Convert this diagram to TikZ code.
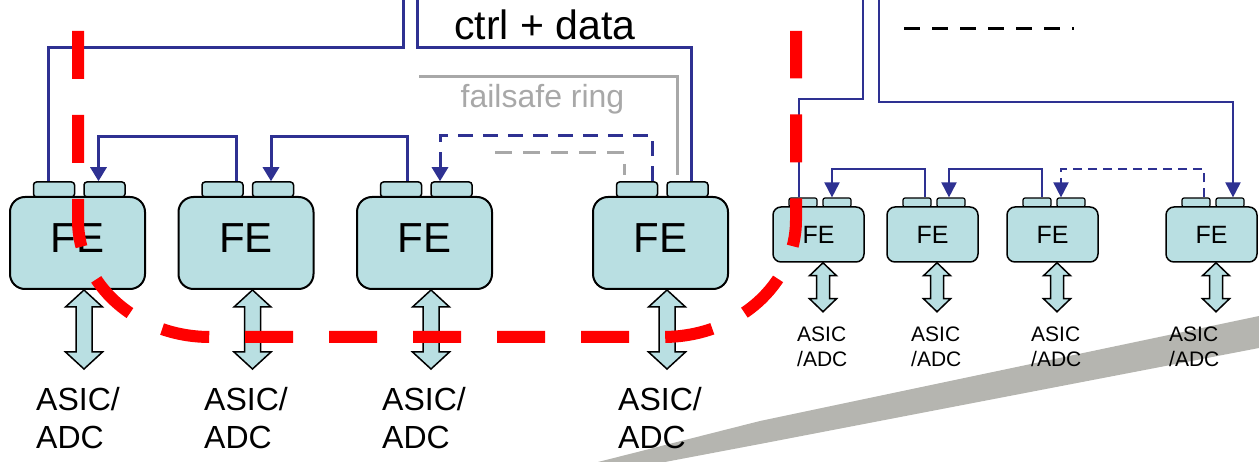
\documentclass[tikz,border=0pt]{standalone}
\usepackage{fontspec}
\setmainfont{Liberation Sans}
\usetikzlibrary{arrows.meta}
\definecolor{boxfill}{RGB}{185,223,226}
\definecolor{navy}{RGB}{46,49,146}
\definecolor{ringgray}{RGB}{168,168,168}
\definecolor{bandgray}{RGB}{181,181,176}
% #1 top coordinate, #2 length, #3 half shaft, #4 half head, #5 head length
\newcommand{\dblarr}[5]{%
  \draw[arrowbox] (#1) -- ++(#4,#5) -- ++(#3-#4,0) -- ++(0,#2-2*#5) -- ++(#4-#3,0)
    -- ++(-#4,#5) -- ++(-#4,-#5) -- ++(#4-#3,0) -- ++(0,2*#5-#2) -- ++(#3-#4,0) -- cycle;}
\tikzset{
  febig/.style={draw, line width=2pt, fill=boxfill, rounded corners=15pt,
    minimum width=135pt, minimum height=92pt, inner sep=0pt},
  tabbig/.style={draw, line width=1.5pt, fill=boxfill, rounded corners=3pt,
    minimum width=41pt, minimum height=15pt, inner sep=0pt},
  fesmall/.style={draw, line width=1.5pt, fill=boxfill, rounded corners=8pt,
    minimum width=91pt, minimum height=55pt, inner sep=0pt},
  tabsmall/.style={draw, line width=1.2pt, fill=boxfill, rounded corners=2pt,
    minimum width=28pt, minimum height=9pt, inner sep=0pt},
  fetxtbig/.style={inner sep=0pt, font=\fontsize{42}{42}\selectfont},
  fetxtsmall/.style={inner sep=0pt, font=\fontsize{25}{25}\selectfont},
  asicbig/.style={anchor=north west, align=left, inner sep=0pt, font=\fontsize{32}{38}\selectfont},
  asicsmall/.style={anchor=north west, align=left, inner sep=0pt, font=\fontsize{21}{25}\selectfont},
  arrowbox/.style={draw, fill=boxfill, line width=1.5pt, line join=miter},
  navyline/.style={draw=navy, line width=3pt},
  navythin/.style={draw=navy, line width=2pt},
  grayline/.style={draw=ringgray, line width=3pt},
  bigtip/.style={-{Triangle[width=16pt,length=14pt]}},
  smalltip/.style={-{Triangle[width=15pt,length=15pt]}},
  redline/.style={draw=red, line width=12pt, dash pattern=on 48pt off 36pt}
}
\begin{document}
\begin{tikzpicture}[x=1pt,y=-1pt]
\useasboundingbox (0,0) rectangle (1259,462);
% grey band
\fill[bandgray] (598,462) -- (760,421) -- (1259,316) -- (1259,348) -- (760,444) -- (665,462) -- cycle;

% ---------- big FE boxes ----------
\foreach \n/\c in {1/77.5,2/246,3/424.5,4/660.5}{
  \node[tabbig] (ta\n) at (\c-23.5,189.5) {};
  \node[tabbig] (tb\n) at (\c+27,189.5) {};
  \node[febig] (fe\n) at (\c,243) {};
  \node[fetxtbig] (fel\n) at (\c,238) {FE};
  \path ([xshift=6.5pt]fe\n.south) coordinate (da\n);
  \dblarr{da\n}{79}{8}{18.5}{17}
}
% ---------- small FE boxes ----------
\foreach \n/\c in {1/818.5,2/932.5,3/1052.5,4/1211.5}{
  \node[tabsmall] (sta\n) at (\c-15.5,202.5) {};
  \node[tabsmall] (stb\n) at (\c+18.5,202.5) {};
  \node[fesmall] (sfe\n) at (\c,234.5) {};
  \node[fetxtsmall] (sfel\n) at (\c,235) {FE};
  \path ([xshift=4.5pt]sfe\n.south) coordinate (sda\n);
  \dblarr{sda\n}{49}{6.5}{13.5}{13}
}

% ---------- big section connectors ----------
\coordinate (topA) at (403,-3);
\coordinate (topB) at (417,-3);
\draw[navyline] ([xshift=-6pt]ta1.north) -- ++(0,-134) -| (topA);
\draw[navyline] (topB) -- ++(0,51) -| ([xshift=3.5pt]tb4.north);
\coordinate (ringA) at (419,77);
\draw[grayline] (ringA) -| ([xshift=-10.5pt,yshift=6pt]tb4.north);
\coordinate (ringB) at (495,153);
\draw[grayline, dash pattern=on 17pt off 11pt] (ringB) -| ([xshift=-13pt,yshift=6pt]ta4.north);
\draw[navyline,bigtip] ([xshift=13.5pt]ta2.north) -- ++(0,-45) -| ([xshift=-6pt]tb1.north);
\draw[navyline,bigtip] ([xshift=6pt]ta3.north) -- ++(0,-45) -| ([xshift=-2pt]tb2.north);
\draw[navyline,bigtip,dash pattern=on 15pt off 10pt] ([xshift=15pt]ta4.north) -- ++(0,-46) -| ([xshift=-11.5pt]tb3.north);

% ---------- small section connectors ----------
\coordinate (topC) at (863,-3);
\coordinate (topD) at (879,-3);
\draw[navythin] (topC) -- ++(0,102) -| ([xshift=-4pt]sta1.north);
\draw[navythin,smalltip] (topD) -- ++(0,105) -| ([xshift=3pt]stb4.north);
\draw[navythin,smalltip] ([xshift=8pt]sta2.north) -- ++(0,-28) -| ([xshift=-5pt]stb1.north);
\draw[navythin,smalltip] ([xshift=5pt]sta3.north) -- ++(0,-28) -| ([xshift=-2pt]stb2.north);
\draw[navythin,smalltip,dash pattern=on 9pt off 6pt] ([xshift=8pt]sta4.north) -- ++(0,-28) -| ([xshift=-10pt]stb3.north);

% black dashed line
\coordinate (dA) at (904,29);
\coordinate (dB) at (1074,29);
\draw[line width=3pt, dash pattern=on 16.3pt off 11.7pt] (dA) -- (dB);

% ---------- texts ----------
\node[anchor=base, inner sep=0pt, font=\fontsize{41}{41}\selectfont] (ctrl) at (545,40) {ctrl + data};
\node[anchor=base, inner sep=0pt, text=ringgray, font=\fontsize{32}{32}\selectfont] (fail) at (542.5,108) {failsafe ring};
\node[asicbig] (as1) at (36,387) {ASIC/\\ADC};
\node[asicbig] (as2) at (204,387) {ASIC/\\ADC};
\node[asicbig] (as3) at (382,387) {ASIC/\\ADC};
\node[asicbig] (as4) at (618,387) {ASIC/\\ADC};
\node[asicsmall] (sas1) at (797,327) {ASIC\\/ADC};
\node[asicsmall] (sas2) at (911,327) {ASIC\\/ADC};
\node[asicsmall] (sas3) at (1031,327) {ASIC\\/ADC};
\node[asicsmall] (sas4) at (1169,327) {ASIC\\/ADC};

% ---------- red boundary ----------
\draw[redline] (78,31) -- (78,220) .. controls (78,284.6) and (137,337) .. (210,337)
  -- (663,337) .. controls (737,337) and (796,284.6) .. (796,220) -- (796,31);
\end{tikzpicture}
\end{document}
